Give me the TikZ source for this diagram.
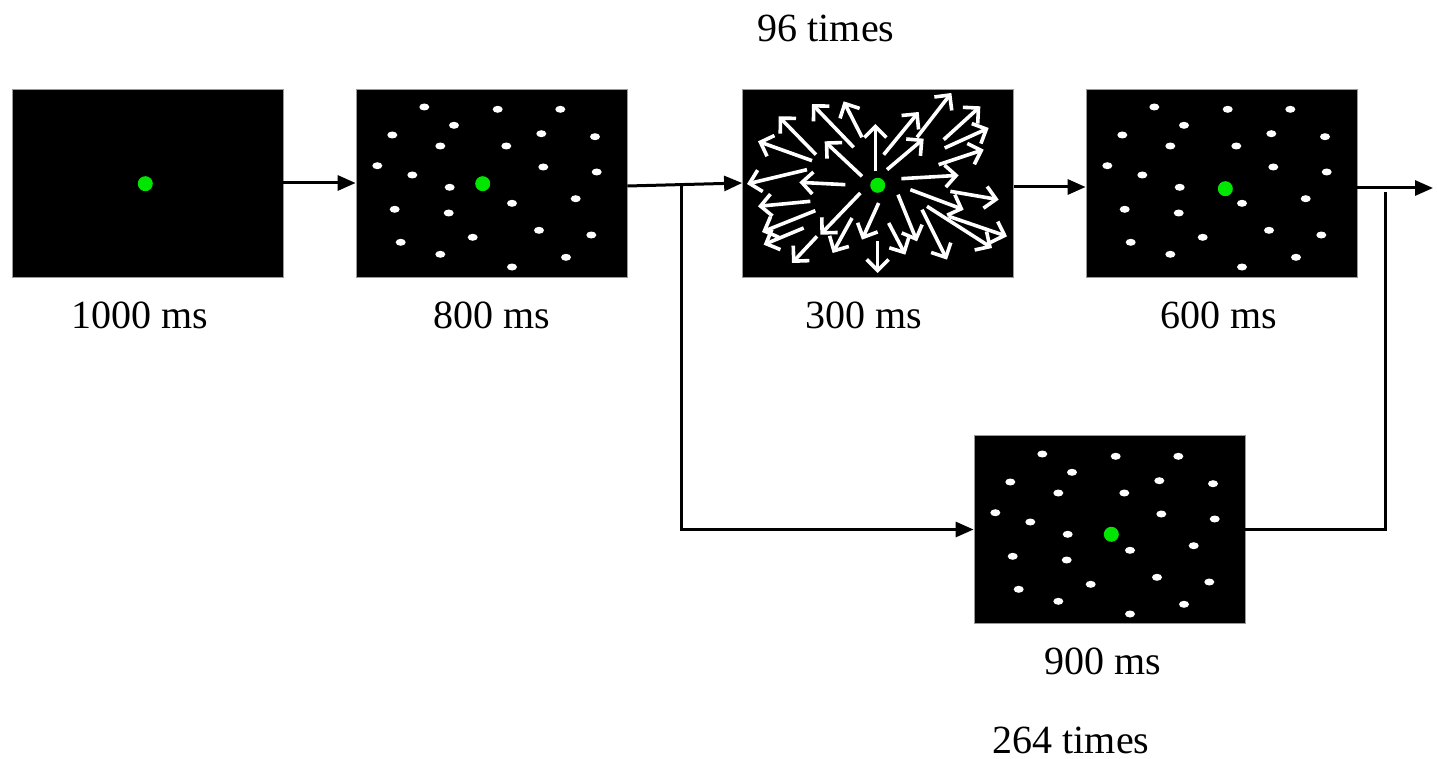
\documentclass[tikz,border=0pt]{standalone}
\usepackage{fontspec}
\setmainfont{Liberation Serif}
\usetikzlibrary{arrows.meta,calc}
\definecolor{dotgreen}{RGB}{0,230,0}
\tikzset{
  screen/.style={fill=black,draw=black!40,line width=0.4pt,minimum width=135.5pt,minimum height=94pt,inner sep=0pt},
  conn/.style={line width=1.5pt,-{Triangle[length=9pt,width=7.5pt]}},
  plain/.style={line width=1.5pt},
  lbl/.style={font=\fontsize{20pt}{24pt}\selectfont,inner sep=0pt},
  wdot/.style={fill=white,draw=none},
  gdot/.style={fill=dotgreen,draw=none},
  warrow/.style={white,line width=1.8pt,-{Straight Barb[length=5.5pt,width=11pt,line width=1.8pt]}}
}
\newcommand{\dotfield}{%
  \foreach \px/\py in {69.3/19,142.7/21.3,205.3/21.3,99/37.3,37.3/47,186.3/45.7,240/48.7,85.3/58,151.3/58,22.3/77.7,188.3/79,241.7/84,57.3/87,94.7/99.3,220.7/110.7,157/115.3,39.7/121.3,93.7/125,184/142.3,236.3/147,117.7/149.3,45.7/154.3,85.3/166.3,211/169.3,157/179}
    {\fill[wdot] (\px,\py) ellipse [x radius=5, y radius=3.5];}%
}
\begin{document}
\begin{tikzpicture}[x=0.5pt,y=-0.5pt]
\useasboundingbox (0,0) rectangle (1438,759);
% screens
\node[screen] (b1) at (147.5,183) {};
\node[screen] (b2) at (491.5,183) {};
\node[screen] (b3) at (878,183) {};
\node[screen] (b4) at (1221.5,183) {};
\node[screen] (b5) at (1109.5,529.5) {};
% dots
\begin{scope}[shift={(355,88)}]\dotfield\end{scope}
\begin{scope}[shift={(1085,88)}]\dotfield\end{scope}
\begin{scope}[shift={(973,435)}]\dotfield\end{scope}
% green fixation
\fill[gdot] (145.3,183.7) circle [radius=7.5];
\fill[gdot] (482.7,183.7) circle [radius=7.5];
\fill[gdot] (1225.3,188.7) circle [radius=7.5];
\fill[gdot] (1111.3,534.3) circle [radius=7.5];
% motion arrows
\begin{scope}[shift={(742,88)},scale=1/3]
\foreach \ax/\ay/\bx/\by in {
400/250/400/108, 360/148/305/40, 335/178/210/48, 222/200/110/85,
210/218/48/160, 195/245/15/288, 310/290/172/283, 360/265/248/160,
205/340/48/355, 220/368/60/432, 185/420/65/470, 225/445/150/525,
355/315/235/440, 330/390/272/495, 410/345/360/455, 407/460/407/555,
440/405/490/500, 468/320/525/460, 540/365/615/515, 555/355/750/480,
505/305/665/365, 625/310/770/335, 620/385/795/445, 478/272/650/262,
435/245/545/152, 425/200/530/72, 525/148/628/15, 605/155/715/55,
608/180/740/120, 590/230/725/185}
  {\draw[warrow] (\ax,\ay) -- (\bx,\by);}
\end{scope}
\fill[gdot] (877.7,185.3) circle [radius=7.5];
% connectors
\draw[conn] (b1.east) -- (b2.west);
\draw[conn] ($(b2.east)+(0,3)$) -- (b3.west);
\coordinate (br) at (681,185.5);
\draw[conn] (br) |- (b5.west);
\draw[conn] ($(b3.east)+(0,4)$) -- ($(b4.west)+(0,4)$);
\coordinate (out) at (1433,188);
\draw[conn] ($(b4.east)+(0,5)$) -- (out);
\coordinate (up) at (1385,192);
\draw[plain] (b5.east) -| (up);
% labels
\node[lbl] (t96) at (826,28) {96 times};
\node[lbl] (l1) at (140,315) {1000 ms};
\node[lbl] (l2) at (492,315) {800 ms};
\node[lbl] (l3) at (864,315) {300 ms};
\node[lbl] (l4) at (1219,315) {600 ms};
\node[lbl] (l5) at (1103,661) {900 ms};
\node[lbl] (t264) at (1071,740) {264 times};
\end{tikzpicture}
\end{document}
